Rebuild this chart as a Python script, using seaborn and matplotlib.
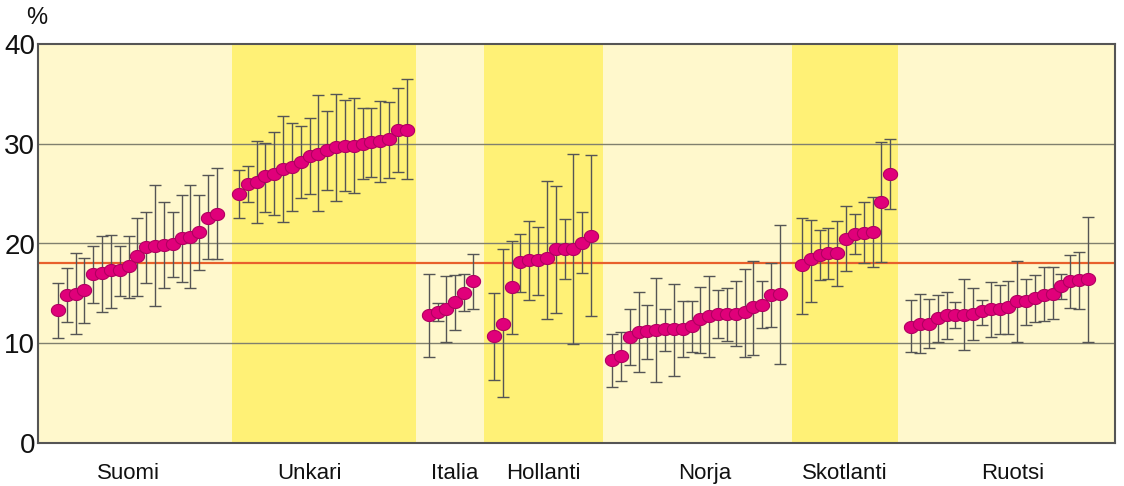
import numpy as np
import pandas as pd
import matplotlib
matplotlib.use("Agg")
import matplotlib.pyplot as plt
import seaborn as sns

# ---------------- data ----------------
groups = ["Suomi", "Unkari", "Italia", "Hollanti", "Norja", "Skotlanti", "Ruotsi"]

suomi_val = [13.3, 14.8, 14.9, 15.3, 16.9, 17.0, 17.3, 17.3, 17.7, 18.7, 19.6, 19.7, 19.8, 19.9, 20.6, 20.7, 21.2, 22.6, 23.0]
suomi_lo = [10.5, 12.1, 10.9, 12.0, 14.0, 13.1, 13.5, 14.7, 14.5, 14.7, 16.0, 13.7, 15.5, 16.6, 16.1, 15.5, 17.3, 18.4, 18.4]
suomi_hi = [16.0, 17.5, 19.0, 18.5, 19.7, 20.8, 20.9, 19.7, 20.8, 22.6, 23.2, 25.9, 24.2, 23.2, 24.9, 25.9, 24.9, 26.9, 27.6]

unkari_val = [25.0, 26.0, 26.2, 26.8, 27.0, 27.5, 27.7, 28.2, 28.8, 29.0, 29.4, 29.7, 29.8, 29.8, 30.0, 30.2, 30.3, 30.5, 31.4, 31.4]
unkari_lo = [22.6, 24.2, 22.1, 23.2, 22.9, 22.2, 23.3, 24.6, 25.0, 23.3, 25.4, 24.3, 25.3, 25.1, 26.5, 26.7, 26.2, 26.6, 27.2, 26.5]
unkari_hi = [27.4, 27.8, 30.3, 30.1, 31.2, 32.8, 32.1, 31.8, 32.6, 34.9, 33.3, 35.0, 34.4, 34.6, 33.6, 33.6, 34.3, 34.2, 35.6, 36.5]

italia_val = [12.8, 13.1, 13.4, 14.1, 15.0, 16.2]
italia_lo = [8.6, 12.2, 10.1, 11.3, 13.2, 13.4]
italia_hi = [16.9, 14.0, 16.7, 16.8, 16.9, 18.9]

hollanti_val = [10.7, 11.9, 15.6, 18.1, 18.3, 18.3, 18.5, 19.4, 19.4, 19.4, 20.1, 20.8]
hollanti_lo = [6.3, 4.6, 10.9, 15.1, 14.3, 14.8, 12.4, 13.0, 16.4, 9.9, 17.0, 12.7]
hollanti_hi = [15.0, 19.4, 20.3, 21.0, 22.3, 21.7, 26.3, 25.8, 22.5, 29.0, 23.2, 28.9]

norja_val = [8.3, 8.7, 10.6, 11.1, 11.2, 11.3, 11.4, 11.4, 11.4, 11.7, 12.4, 12.7, 12.9, 12.9, 12.9, 13.1, 13.6, 13.8, 14.8, 14.9]
norja_lo = [5.6, 6.2, 7.8, 7.1, 8.4, 6.1, 9.2, 6.7, 8.6, 9.1, 9.0, 8.6, 10.5, 10.2, 9.7, 8.6, 8.8, 11.5, 11.6, 7.9]
norja_hi = [10.9, 11.1, 13.4, 15.1, 13.8, 16.5, 13.4, 15.9, 14.2, 14.2, 15.6, 16.7, 15.3, 15.5, 16.2, 17.4, 18.2, 16.2, 18.0, 21.9]

skotlanti_val = [17.8, 18.4, 18.8, 19.0, 19.0, 20.5, 21.0, 21.1, 21.2, 24.2, 27.0]
skotlanti_lo = [12.9, 14.1, 16.3, 16.4, 15.7, 17.2, 18.9, 18.0, 17.6, 18.1, 23.5]
skotlanti_hi = [22.6, 22.4, 21.4, 21.6, 22.3, 23.8, 23.0, 24.2, 24.7, 30.2, 30.5]

ruotsi_val = [11.6, 11.9, 11.9, 12.5, 12.8, 12.8, 12.8, 12.9, 13.2, 13.4, 13.4, 13.6, 14.2, 14.2, 14.5, 14.8, 14.9, 15.7, 16.2, 16.3, 16.4]
ruotsi_lo = [9.1, 9.0, 9.5, 10.1, 10.4, 11.5, 9.3, 10.3, 11.8, 10.6, 10.9, 10.9, 10.1, 11.8, 12.1, 12.2, 12.4, 14.4, 13.5, 13.4, 10.1]
ruotsi_hi = [14.3, 14.9, 14.4, 14.8, 15.1, 14.1, 16.4, 15.5, 14.3, 16.1, 15.8, 16.2, 18.2, 16.4, 16.8, 17.6, 17.6, 16.9, 18.8, 19.1, 22.7]

reference_level = 18.0
y_ticks = [0, 10, 20, 30, 40]

values = [suomi_val, unkari_val, italia_val, hollanti_val, norja_val, skotlanti_val, ruotsi_val]
lowers = [suomi_lo, unkari_lo, italia_lo, hollanti_lo, norja_lo, skotlanti_lo, ruotsi_lo]
uppers = [suomi_hi, unkari_hi, italia_hi, hollanti_hi, norja_hi, skotlanti_hi, ruotsi_hi]

# ---------------- layout (units of point spacing) ----------------
left_margin = [2.26, 0.79, 1.47, 1.13, 1.02, 1.13, 1.47]
right_margin = [1.70, 1.02, 1.25, 1.36, 1.36, 0.91, 3.06]
label_shift = [-0.7, -1.6, 0.6, 0.0, 0.8, 0.0, 0.7]
band_colors = ["#FFF8CC", "#FFF176"]

rows = []
bands = []
cursor = 0.0
for gi, g in enumerate(groups):
    start = cursor
    n = len(values[gi])
    for i in range(n):
        x = start + left_margin[gi] + i
        rows.append({"group": g, "x": x, "val": values[gi][i],
                     "lo": lowers[gi][i], "hi": uppers[gi][i]})
    cursor = start + left_margin[gi] + (n - 1) + right_margin[gi]
    bands.append((start, cursor))
df = pd.DataFrame(rows)

# ---------------- figure ----------------
sns.set_theme(style="white")
plt.rcParams["font.family"] = ["Liberation Sans", "DejaVu Sans"]

fig = plt.figure(figsize=(11.24, 4.86), dpi=100)
ax = fig.add_axes([38 / 1124, 1 - 443 / 486, (1115 - 38) / 1124, (443 - 44) / 486])

for gi, (a, b) in enumerate(bands):
    ax.axvspan(a, b, color=band_colors[gi % 2], zorder=0, lw=0)

for yv in [10, 20, 30]:
    ax.axhline(yv, color="#80806e", lw=1.0, zorder=1)
ax.axhline(reference_level, color="#E8602C", lw=1.6, zorder=2)

ax.errorbar(df["x"], df["val"],
            yerr=[df["val"] - df["lo"], df["hi"] - df["val"]],
            fmt="none", ecolor="#555555", elinewidth=1.0, capsize=4.5,
            capthick=1.0, zorder=3)

t = np.linspace(0, 2 * np.pi, 40)
ellipse = np.column_stack([1.18 * np.cos(t), np.sin(t)])
sns.scatterplot(data=df, x="x", y="val", ax=ax, marker=ellipse, s=105,
                color="#E0007A", edgecolor="#B00060", linewidth=0.8,
                zorder=4, legend=False)

ax.set_xlim(bands[0][0], bands[-1][1])
ax.set_ylim(0, 40)
ax.set_yticks(y_ticks)
ax.set_yticklabels([str(v) for v in y_ticks],
                   family=["Liberation Sans Narrow", "Liberation Sans", "DejaVu Sans"],
                   fontsize=20, color="#111111")
ax.tick_params(axis="y", length=0, pad=2)
ax.set_xticks([])
ax.set_xlabel("")
ax.set_ylabel("")
for sp in ax.spines.values():
    sp.set_visible(True)
    sp.set_color("#555555")
    sp.set_linewidth(1.5)

for gi, (a, b) in enumerate(bands):
    ax.text((a + b) / 2 + label_shift[gi], -3.1, groups[gi], ha="center", va="center",
            fontsize=16, color="#111111")

fig.text(37 / 1124, 1 - 18 / 486, "%", ha="center", va="center", fontsize=17,
         color="#111111", family=["Liberation Sans Narrow", "Liberation Sans", "DejaVu Sans"])

fig.savefig("out.png", dpi=100, facecolor="white")
